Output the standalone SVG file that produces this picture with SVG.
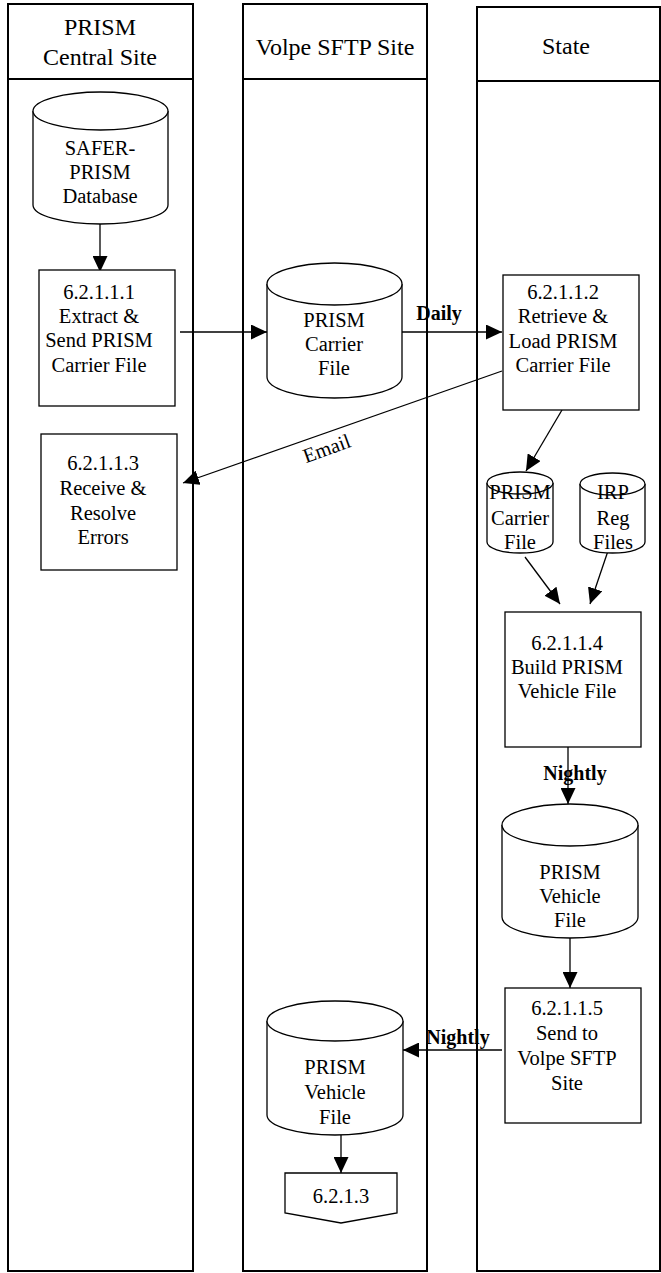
<svg xmlns="http://www.w3.org/2000/svg" width="661" height="1273" viewBox="0 0 661 1273">
<style>
.lane{fill:none;stroke:#000;stroke-width:2}
.shape{fill:#fff;stroke:#000;stroke-width:1.3}
.conn{fill:none;stroke:#000;stroke-width:1.3}
text{font-family:"Liberation Serif","Times New Roman",serif;fill:#000}
.h{font-size:24px;text-anchor:middle}
.t{font-size:20.5px;text-anchor:middle}
.b{font-size:20px;font-weight:bold;text-anchor:middle}
</style>
<defs>
<marker id="arr" viewBox="0 0 16 15" refX="16" refY="7.5" markerWidth="16" markerHeight="15" markerUnits="userSpaceOnUse" orient="auto">
<path d="M0,0 L16,7.5 L0,15 Z" fill="#000"/>
</marker>
</defs>
<rect width="661" height="1273" fill="#fff"/>
<g id="lane-prism">
<rect class="lane" x="8" y="4" width="185" height="1267"/>
<line class="lane" x1="8" y1="79" x2="193" y2="79"/>
<text class="h" x="100" y="35">PRISM</text>
<text class="h" x="100" y="65">Central Site</text>
</g>
<g id="lane-volpe">
<rect class="lane" x="243" y="4" width="184" height="1267"/>
<line class="lane" x1="243" y1="79" x2="427" y2="79"/>
<text class="h" x="335" y="55">Volpe SFTP Site</text>
</g>
<g id="lane-state">
<rect class="lane" x="477" y="7" width="183" height="1264"/>
<line class="lane" x1="477" y1="81" x2="660" y2="81"/>
<text class="h" x="566" y="54">State</text>
</g>
<g id="connectors">
<line class="conn" x1="100" y1="224" x2="100" y2="272" marker-end="url(#arr)"/>
<line class="conn" x1="180" y1="332" x2="267" y2="332" marker-end="url(#arr)"/>
<line class="conn" x1="402" y1="332" x2="502" y2="332" marker-end="url(#arr)"/>
<text class="b" x="439" y="320">Daily</text>
<line class="conn" x1="502" y1="371" x2="183" y2="483" marker-end="url(#arr)"/>
<text class="t" x="0" y="0" transform="translate(329,455) rotate(-20)">Email</text>
<line class="conn" x1="562" y1="410" x2="526" y2="471" marker-end="url(#arr)"/>
<line class="conn" x1="525" y1="557" x2="560" y2="604" marker-end="url(#arr)"/>
<line class="conn" x1="610" y1="545" x2="590" y2="604" marker-end="url(#arr)"/>
<line class="conn" x1="568" y1="742" x2="568" y2="804" marker-end="url(#arr)"/>
<text class="b" x="575" y="780">Nightly</text>
<line class="conn" x1="570" y1="938" x2="570" y2="988" marker-end="url(#arr)"/>
<line class="conn" x1="502" y1="1050" x2="403" y2="1050" marker-end="url(#arr)"/>
<text class="b" x="458" y="1044">Nightly</text>
<line class="conn" x1="341" y1="1135" x2="341" y2="1173" marker-end="url(#arr)"/>
</g>
<g id="safer-prism-db">
<path class="shape" d="M33,111 A67.5,19 0 0 1 168,111 L168,205 A67.5,19 0 0 1 33,205 Z"/>
<path class="shape" d="M33,111 A67.5,19 0 0 0 168,111"/>
<text class="t" x="100" y="155">SAFER-</text>
<text class="t" x="100" y="179">PRISM</text>
<text class="t" x="100" y="203">Database</text>
</g>
<g id="p62111">
<rect class="shape" x="39" y="270" width="136" height="136"/>
<text class="t" x="99" y="299">6.2.1.1.1</text>
<text class="t" x="99" y="323">Extract &amp;</text>
<text class="t" x="99" y="347">Send PRISM</text>
<text class="t" x="99" y="372">Carrier File</text>
</g>
<g id="volpe-carrier-file">
<path class="shape" d="M267,284 A67.5,21 0 0 1 402,284 L402,377 A67.5,21 0 0 1 267,377 Z"/>
<path class="shape" d="M267,284 A67.5,21 0 0 0 402,284"/>
<text class="t" x="334" y="327">PRISM</text>
<text class="t" x="334" y="351">Carrier</text>
<text class="t" x="334" y="375">File</text>
</g>
<g id="p62112">
<rect class="shape" x="503" y="275" width="136" height="135"/>
<text class="t" x="563" y="299">6.2.1.1.2</text>
<text class="t" x="563" y="323">Retrieve &amp;</text>
<text class="t" x="563" y="348">Load PRISM</text>
<text class="t" x="563" y="372">Carrier File</text>
</g>
<g id="p62113">
<rect class="shape" x="41" y="434" width="136" height="136"/>
<text class="t" x="103" y="470">6.2.1.1.3</text>
<text class="t" x="103" y="495">Receive &amp;</text>
<text class="t" x="103" y="520">Resolve</text>
<text class="t" x="103" y="544">Errors</text>
</g>
<g id="state-carrier-file">
<path class="shape" d="M487,483 A33,11 0 0 1 553,483 L553,542 A33,11 0 0 1 487,542 Z"/>
<path class="shape" d="M487,483 A33,11 0 0 0 553,483"/>
<text class="t" x="520" y="499">PRISM</text>
<text class="t" x="520" y="525">Carrier</text>
<text class="t" x="520" y="549">File</text>
</g>
<g id="irp-reg-files">
<path class="shape" d="M580,484 A32.5,11 0 0 1 645,484 L645,542 A32.5,11 0 0 1 580,542 Z"/>
<path class="shape" d="M580,484 A32.5,11 0 0 0 645,484"/>
<text class="t" x="613" y="499">IRP</text>
<text class="t" x="613" y="525">Reg</text>
<text class="t" x="613" y="549">Files</text>
</g>
<g id="p62114">
<rect class="shape" x="505" y="612" width="136" height="135"/>
<text class="t" x="567" y="650">6.2.1.1.4</text>
<text class="t" x="567" y="674">Build PRISM</text>
<text class="t" x="567" y="698">Vehicle File</text>
</g>
<g id="state-vehicle-file">
<path class="shape" d="M502,825 A68,21 0 0 1 638,825 L638,917 A68,21 0 0 1 502,917 Z"/>
<path class="shape" d="M502,825 A68,21 0 0 0 638,825"/>
<text class="t" x="570" y="879">PRISM</text>
<text class="t" x="570" y="903">Vehicle</text>
<text class="t" x="570" y="927">File</text>
</g>
<g id="p62115">
<rect class="shape" x="505" y="988" width="136" height="135"/>
<text class="t" x="567" y="1015">6.2.1.1.5</text>
<text class="t" x="567" y="1040">Send to</text>
<text class="t" x="567" y="1065">Volpe SFTP</text>
<text class="t" x="567" y="1090">Site</text>
</g>
<g id="volpe-vehicle-file">
<path class="shape" d="M267,1021 A68,20 0 0 1 403,1021 L403,1115 A68,20 0 0 1 267,1115 Z"/>
<path class="shape" d="M267,1021 A68,20 0 0 0 403,1021"/>
<text class="t" x="335" y="1074">PRISM</text>
<text class="t" x="335" y="1099">Vehicle</text>
<text class="t" x="335" y="1124">File</text>
</g>
<g id="offpage-6213">
<path class="shape" d="M285,1173 L397,1173 L397,1213 L341,1223 L285,1213 Z"/>
<text class="t" x="341" y="1203">6.2.1.3</text>
</g>
</svg>
